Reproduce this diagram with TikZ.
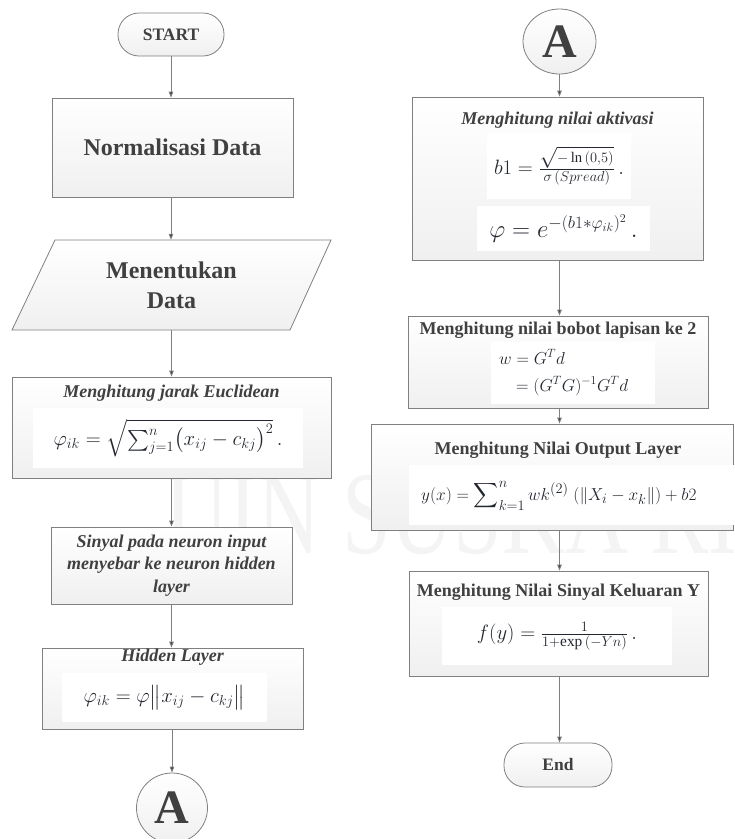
\documentclass[tikz,border=0pt]{standalone}
\usepackage{fontspec}
\setmainfont{Liberation Serif}
\usepackage{amsmath}
\usetikzlibrary{arrows.meta,shapes.geometric}

\definecolor{ink}{HTML}{404040}
\definecolor{edge}{HTML}{808080}
\definecolor{mathink}{HTML}{23272F}
\definecolor{wm}{HTML}{F4F4F4}

\tikzset{
  x=1pt, y=-1pt,
  box/.style={draw=edge, line width=0.8pt, top color=white, bottom color=gray!12,
    text=ink, inner sep=0pt},
  term/.style={box, rounded corners=21pt, font=\fontsize{17.5}{20}\selectfont\bfseries},
  conn/.style={box, ellipse, font=\fontsize{48}{48}\selectfont\bfseries},
  formula/.style={fill=white, text=mathink, inner sep=0pt},
  title/.style={text=ink, inner sep=0pt, font=\fontsize{18}{22}\selectfont\bfseries},
  ititle/.style={text=ink, inner sep=0pt, font=\fontsize{18}{22.5}\selectfont\bfseries\itshape},
  big/.style={text=ink, inner sep=0pt, align=center, font=\fontsize{24}{30}\selectfont\bfseries},
  flow/.style={draw=edge, line width=0.8pt, -{Triangle[width=4.5pt,length=6pt,fill=ink]}},
}

\begin{document}
\begin{tikzpicture}
\useasboundingbox (0,0) rectangle (735,839);
\fill[white] (0,0) rectangle (735,839);

% faint watermark lettering
\node[anchor=base west, text=wm, inner sep=0pt, xscale=0.74,
  font=\fontsize{118}{118}\selectfont] (wmtext) at (165,553) {UIN SUSKA RIAU};

% ---------- left column ----------
\node[term, minimum width=106pt, minimum height=43pt] (start) at (171,34.5) {START};

\node[box, big, minimum width=241pt, minimum height=99pt] (norm) at (172.5,147.5) {Normalisasi Data};

\path[draw=edge, line width=0.8pt, top color=white, bottom color=gray!12]
  (55,240) -- (331,240) -- (290,330) -- (12,330) -- cycle;
\node[big, minimum width=240pt, minimum height=90pt] (data) at (171.5,285) {Menentukan\\Data};

\node[box, minimum width=319pt, minimum height=101pt] (eucl) at (171.5,427.5) {};
\node[ititle] (euclt) at (171.5,393) {Menghitung jarak Euclidean};
\node[formula, minimum width=270pt, minimum height=60pt, font=\fontsize{20.5}{24}\selectfont]
  (euclf) at (168,438) {$\varphi_{ik} = \sqrt{\sum_{j=1}^{n}\bigl(x_{ij}-c_{kj}\bigr)^{2}}\,.$};

\node[box, ititle, align=center, minimum width=241pt, minimum height=77pt] (sinyal) at (171.5,565.5)
  {Sinyal pada neuron input\\menyebar ke neuron hidden\\layer};

\node[box, minimum width=261pt, minimum height=81pt] (hidden) at (172.5,688.5) {};
\node[ititle] (hiddent) at (172.5,657) {Hidden Layer};
\node[formula, minimum width=205pt, minimum height=49pt, font=\fontsize{21}{24}\selectfont]
  (hiddenf) at (164.5,697.5) {$\varphi_{ik} = \varphi\bigl\|x_{ij}-c_{kj}\bigr\|$};

\node[conn, minimum width=71pt, minimum height=70pt] (aout) at (172,808) {A};

\draw[flow] (start.south) -- (start.south |- norm.north);
\draw[flow] (norm.south -| start.south) -- (start.south |- data.north);
\draw[flow] (data.south) -- (data.south |- eucl.north);
\draw[flow] (eucl.south) -- (eucl.south |- sinyal.north);
\draw[flow] (sinyal.south) -- (sinyal.south |- hidden.north);
\draw[flow] (hidden.south -| aout.north) -- (aout.north);

% ---------- right column ----------
\node[conn, minimum width=73pt, minimum height=65pt] (ain) at (559.5,41.5) {A};

\node[box, minimum width=291pt, minimum height=163pt] (aktiv) at (557.5,178.5) {};
\node[ititle] (aktivt) at (557.5,120) {Menghitung nilai aktivasi};
\node[formula, minimum width=144pt, minimum height=66pt, font=\fontsize{21}{24}\selectfont]
  (aktivf1) at (559,166) {$b1 = \frac{\sqrt{{-}\ln{(0{,}5)}}}{\sigma\,(Spread)}\,.$};
\node[formula, minimum width=173pt, minimum height=45pt, font=\fontsize{23}{26}\selectfont]
  (aktivf2) at (563.5,228.5) {$\varphi = e^{-(b1*\varphi_{ik})^{2}}\,.$};

\node[box, minimum width=300pt, minimum height=92pt] (bobot) at (558,362) {};
\node[title] (bobott) at (558,330) {Menghitung nilai bobot lapisan ke 2};
\node[formula, minimum width=164pt, minimum height=62pt] (bobotf) at (573,373) {};
\node[text=mathink, inner sep=0pt, anchor=west, font=\fontsize{17}{20}\selectfont]
  (bobotf1) at (499,357) {$w = G^{T}d$};
\node[text=mathink, inner sep=0pt, anchor=west, font=\fontsize{17}{20}\selectfont]
  (bobotf2) at (516,386) {$= (G^{T}G)^{-1}G^{T}d$};

\node[box, minimum width=362pt, minimum height=106pt] (output) at (552,477) {};
\node[title] (outputt) at (558,450) {Menghitung Nilai Output Layer};
\node[formula, minimum width=330pt, minimum height=60pt] (outputfb) at (574,495) {};
\node[text=mathink, inner sep=0pt, anchor=west, font=\fontsize{19}{22}\selectfont]
  (outputf) at (421,496) {$y(x) = \displaystyle\sum\nolimits_{k=1}^{n} wk^{(2)}\;(\|X_i - x_k\|) + b2$};

\node[box, minimum width=299pt, minimum height=105pt] (kel) at (558.5,623.5) {};
\node[title] (kelt) at (558.5,592) {Menghitung Nilai Sinyal Keluaran Y};
\node[formula, minimum width=230pt, minimum height=58pt, font=\fontsize{22}{26}\selectfont]
  (kelf) at (557,636) {$f(y) = \frac{1}{1+\exp\,(-Yn)}\,.$};

\node[term, minimum width=108pt, minimum height=44pt] (end) at (558,765) {End};

\draw[flow] (ain.south) -- (ain.south |- aktiv.north);
\draw[flow] (aktiv.south -| ain.south) -- (ain.south |- bobot.north);
\draw[flow] (bobot.south -| ain.south) -- (ain.south |- output.north);
\draw[flow] (output.south -| ain.south) -- (ain.south |- kel.north);
\draw[flow] (kel.south -| ain.south) -- (ain.south |- end.north);
\end{tikzpicture}
\end{document}
